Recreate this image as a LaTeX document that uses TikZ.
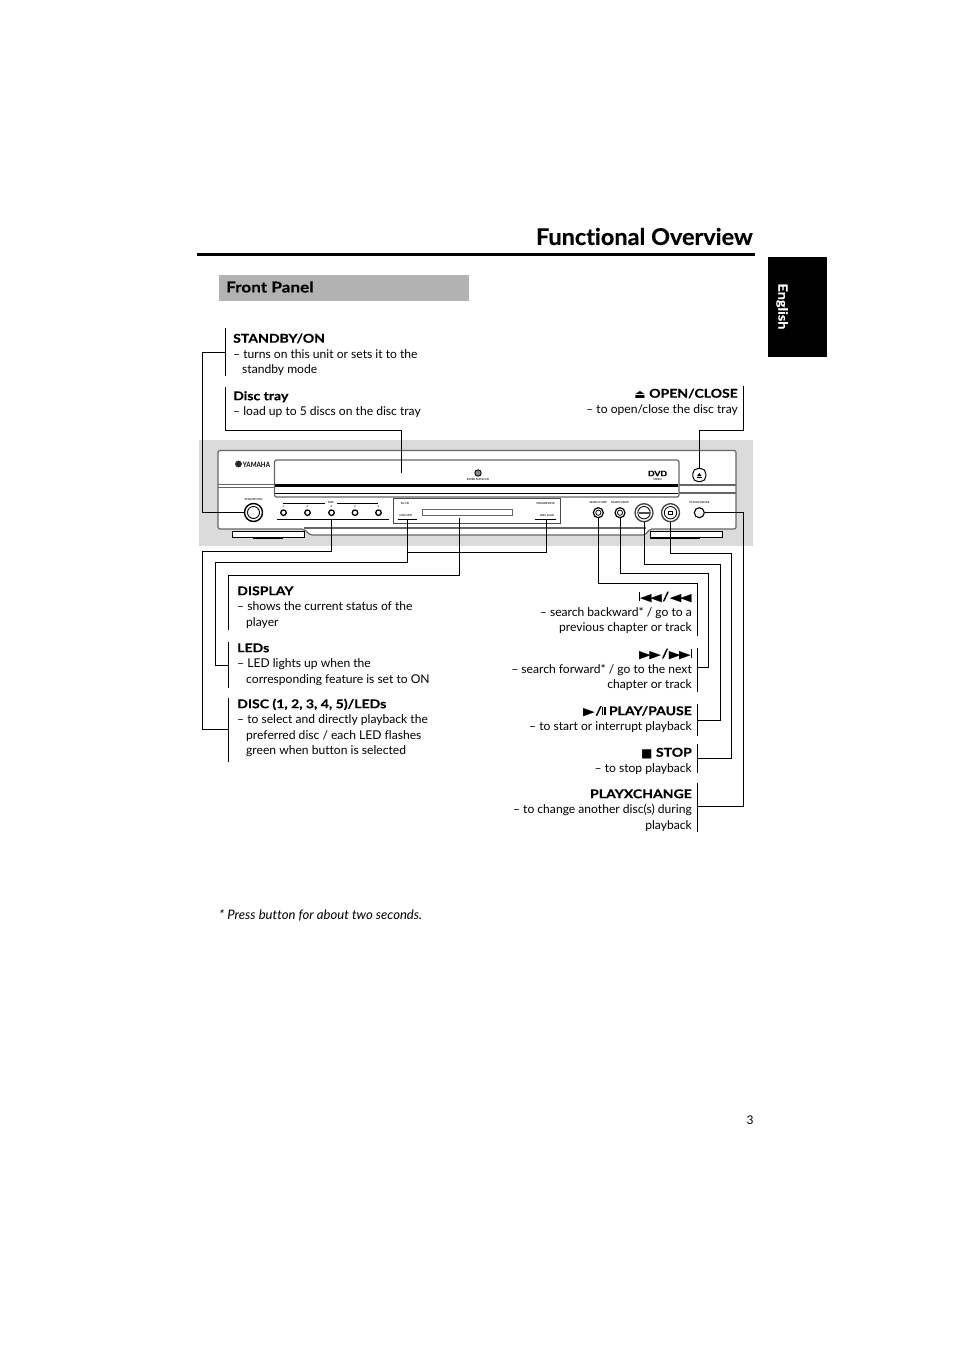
\documentclass[tikz,border=0pt]{standalone}
\usepackage{fontspec}
\setmainfont[Ligatures=NoCommon]{Lato}
\newfontfamily\symfont{DejaVu Sans}
\newfontface\headfont{Lato Bold}[FakeStretch=1.16,FakeBold=0.25,Ligatures=NoCommon]
\newfontface\titlefont{Lato Bold}[FakeStretch=1.02,FakeBold=0.3,Ligatures=NoCommon]
\newcommand{\bodyfont}{\fontsize{12.1}{15.5}\selectfont}
\newcommand{\hd}[1]{{\headfont\rule{0pt}{9.5pt}#1}}
\newcommand{\symb}[2]{\smash{\raisebox{-0.6pt}{\symfont\fontsize{#1}{#1}\selectfont #2}}}
\newcommand{\lefttri}{\smash{\scalebox{1.4}[1]{\symb{11}{◀}}}}
\newcommand{\righttri}{\smash{\scalebox{1.4}[1]{\symb{11}{▶}}}}
\newcommand{\vbar}[1]{\rule[-0.2pt]{#1}{8.5pt}}
\begin{document}
\begin{tikzpicture}[
        x=1pt, y=-1pt,
        note/.style={anchor=north west, inner sep=0pt, align=left, font=\bodyfont},
        noter/.style={anchor=north east, inner sep=0pt, align=right, font=\bodyfont},
        conn/.style={draw=black, line width=0.9pt},
        edge/.style={draw=black!60, line width=1.2pt},
        tinytext/.style={inner sep=0pt, font=\bfseries\fontsize{2.7}{3}\selectfont, text=black!85},
        smallbtn/.style={circle, draw=black, line width=0.9pt, inner sep=0pt, minimum size=10pt, fill=white},
        bigbtn/.style={circle, draw=black!75, line width=1.3pt, inner sep=0pt, minimum size=18pt, fill=white},
        led/.style={circle, draw=black, line width=1.3pt, inner sep=0pt, minimum size=5.5pt, fill=white}
    ]

    \useasboundingbox (0,0) rectangle (954,1351);
    \fill[white] (0,0) rectangle (954,1351);

    % Heading
    \node[inner sep=0pt, anchor=east, font=\titlefont\fontsize{23}{23}\selectfont] (title) at (753,236.5) {Functional Overview};
    \draw[line width=3pt] (197,254.5) -- (755,254.5);
    \node[fill=black!30, minimum width=250pt, minimum height=26pt, inner sep=0pt] (band) at (344,288) {};
    \node[inner sep=0pt, anchor=west, font=\headfont\fontsize{14.8}{15}\selectfont] (panelname) at (226,287) {Front Panel};
    \node[fill=black, minimum width=59pt, minimum height=100pt, inner sep=0pt] (tab) at (797.5,307) {};
    \node[inner sep=0pt, rotate=-90, text=white, font=\headfont\fontsize{12.5}{12.5}\selectfont] (lang) at (782,306.5) {English};

    % Player
    \fill[black!14] (199,440) rectangle (753,546);
    \draw[edge, fill=white, rounded corners=2pt] (218,450.5) -- (736,450.5) -- (736,529) -- (650,529) -- (645,535) -- (310,535) -- (304,529) -- (218,529) -- cycle;
    \draw[edge] (304,528) -- (646,528);
    \draw[edge] (218,484.5) -- (274,484.5);
    \draw[edge] (218,487.5) -- (274,487.5);
    \draw[edge] (679,485) -- (736,485);
    \draw[edge] (679,493) -- (736,493);
    \draw[edge, rounded corners=2pt] (274.5,460) rectangle (679,497);
    \draw[line width=3pt] (275,485.5) -- (678,485.5);
    \draw[line width=0.7pt] (275,493) -- (678,493);
    \node[draw=black, line width=0.7pt, fill=white, minimum width=72pt, minimum height=6pt, inner sep=0pt] (footl) at (268.5,534.7) {};
    \node[draw=black, line width=0.7pt, fill=white, minimum width=72pt, minimum height=6pt, inner sep=0pt] (footr) at (686,534.7) {};
    \draw[line width=1.3pt] (253,538) -- (283,538);
    \draw[line width=1.3pt] (650,538) -- (700,538);

    % Logos
    \fill[black!85] (238.5,464) circle (3.4);
    \node[inner sep=0pt, font=\bfseries\fontsize{7.4}{7.4}\selectfont] (yamaha) at (256.5,464.5) {\scalebox{0.84}[1]{YAMAHA}};
    \draw[line width=0.9pt, fill=black!45] (478,473) circle (3.2);
    \node[tinytext] (sacd) at (478,480) {SUPER AUDIO CD};
    \node[inner sep=0pt, font=\headfont\itshape\fontsize{7.5}{7.5}\selectfont] (dvd) at (657.5,473.5) {DVD};
    \node[tinytext] (dvdsub) at (657.5,479.5) {VIDEO};

    % Standby and discs
    \node[tinytext] (standbytext) at (253.5,500) {STANDBY/ON};
    \node[bigbtn, line width=1.4pt, draw=black] (bstandby) at (253.5,512.5) {};
    \draw[line width=0.9pt] (bstandby) circle (6);
    \draw[line width=0.7pt] (283,503.3) -- (325,503.3);
    \draw[line width=0.7pt] (337,503.3) -- (378,503.3);
    \node[tinytext] (disctext) at (331,503) {DISC};
    \draw[line width=0.8pt] (277,519) -- (389,519);
    \foreach \x/\n in {283.5/1, 307.5/2, 331.5/3, 355/4, 378.5/5} {
        \node[tinytext] (num\n) at (\x,506.8) {\n};
        \node[led] (bdisc\n) at (\x,512.7) {};
    }
    \coordinate (discrule) at (331.5,519);

    % Display
    \draw[draw=black!70, line width=0.8pt] (393,498.3) rectangle (560.7,523.3);
    \node[draw=black!60, line width=0.7pt, minimum width=90pt, minimum height=6.4pt, inner sep=0pt] (slot) at (467.3,512.5) {};
    \node[tinytext] (ledtext1) at (405,504) {SA-CD};
    \node[tinytext] (ledtext2) at (406,515.7) {DISC SKIP};
    \node[tinytext] (ledtext3) at (545.7,504) {PROGRESSIVE};
    \node[tinytext] (ledtext4) at (547,515.7) {DISC SCAN};
    \draw[line width=0.8pt] (397.7,519.3) -- (417.3,519.3);
    \draw[line width=0.8pt] (535,519.3) -- (555.7,519.3);
    \coordinate (ledrule1) at (407.7,519.3);
    \coordinate (ledrule2) at (546,519.3);
    \coordinate (slottap) at (459.7,518);

    % Buttons
    \node[tinytext] (backtext) at (598.3,503) {SEARCH/SKIP};
    \node[tinytext] (fwdtext) at (620,503) {SEARCH/SKIP};
    \node[tinytext] (xchangetext) at (699.5,503) {PLAYXCHANGE};
    \node[smallbtn, line width=1.2pt] (bback) at (598.3,512.7) {};
    \draw[line width=0.8pt] (bback) circle (2.6);
    \node[smallbtn, line width=1.2pt] (bfwd) at (620,512.7) {};
    \draw[line width=0.8pt] (bfwd) circle (2.6);
    \node[bigbtn] (bplay) at (644,512.7) {};
    \draw[line width=0.8pt] (bplay) circle (6.2);
    \draw[line width=1.8pt, black!70] (638.5,512.7) -- (649.5,512.7);
    \node[bigbtn] (bstop) at (670.5,512.7) {};
    \draw[line width=0.8pt] (bstop) circle (6.2);
    \draw[line width=0.5pt] (668.3,511) rectangle (672.7,514.4);
    \node[smallbtn, line width=1.1pt] (bxchange) at (699.3,512.7) {};
    \node[draw=black, line width=1pt, rounded corners=5pt, fill=white, minimum size=13pt, inner sep=0pt] (beject) at (699.3,475) {};
    \fill (696.9,476.2) -- (701.7,476.2) -- (699.3,473) -- cycle;
    \draw[line width=0.6pt] (696.9,477.6) -- (701.7,477.6);

    % Left notes, upper
    \node[note] (standby) at (233,333) {\hd{STANDBY/ON}\\– turns on this unit or sets it to the\\\hspace*{9pt}standby mode};
    \node[note] (disctray) at (233,390.5) {\hd{Disc tray}\\– load up to 5 discs on the disc tray};
    \draw[conn] (225.5,328) -- (225.5,376);
    \draw[conn] (bstandby.west) -- (202.5,512.5) -- (202.5,352.3) -- (225.5,352.3);
    \draw[conn] (225.5,387) -- (225.5,430) -- (401.7,430) -- (401.7,473);

    % Open/close
    \node[noter] (eject) at (738,388) {\hd{\symb{12}{⏏} OPEN/CLOSE}\\– to open/close the disc tray};
    \draw[conn] (743.3,386) -- (743.3,430) -- (699.3,430) -- (beject.north);

    % Left notes, lower
    \node[note] (display) at (237,585.5) {\hd{DISPLAY}\\– shows the current status of the\\\hspace*{9pt}player};
    \node[note] (leds) at (237,642.5) {\hd{LEDs}\\– LED lights up when the\\\hspace*{9pt}corresponding feature is set to ON};
    \node[note] (disc) at (237,698.5) {\hd{DISC (1, 2, 3, 4, 5)/LEDs}\\– to select and directly playback the\\\hspace*{9pt}preferred disc / each LED flashes\\\hspace*{9pt}green when button is selected};
    \draw[conn] (slottap) -- (459.7,575) -- (228.5,575) -- (228.5,630);
    \draw[conn] (228.5,641.7) -- (228.5,688.3);
    \draw[conn] (ledrule1) -- (407.7,562.3) -- (215,562.3) -- (215,665) -- (228.5,665);
    \draw[conn] (ledrule2) -- (546,552.7) -- (407.7,552.7);
    \draw[conn] (228.5,698.3) -- (228.5,761.7);
    \draw[conn] (discrule) -- (331.5,551.3) -- (202.3,551.3) -- (202.3,729.3) -- (228.5,729.3);

    % Right notes
    \node[noter] (back) at (692,591) {\hd{\vbar{0.8pt}\lefttri\kern-1.5pt\lefttri\kern0.5pt/\kern0.5pt\lefttri\kern-1.5pt\lefttri}\\– search backward* / go to a\\previous chapter or track};
    \node[noter] (fwd) at (692,648) {\hd{\righttri\kern-1.5pt\righttri\kern0.5pt/\kern0.5pt\righttri\kern-1.5pt\righttri\vbar{0.8pt}}\\– search forward* / go to the next\\chapter or track};
    \node[noter] (play) at (692,705.5) {\hd{\righttri\kern0.5pt/\vbar{1.5pt}\kern0.6pt\vbar{1.5pt} PLAY/PAUSE}\\– to start or interrupt playback};
    \node[noter] (stop) at (692,747) {\hd{\symb{12}{■} STOP}\\– to stop playback};
    \node[noter] (xchange) at (692,788.5) {\hd{PLAYXCHANGE}\\– to change another disc(s) during\\playback};

    \draw[conn] (bback.south) -- (598.3,583.3) -- (697.7,583.3) -- (697.7,635.7);
    \draw[conn] (697.7,648) -- (697.7,692.3);
    \draw[conn] (bfwd.south) -- (620,573.3) -- (708.7,573.3) -- (708.7,667.3) -- (697.7,667.3);
    \draw[conn] (697.7,704) -- (697.7,735.7);
    \draw[conn] (bplay.south) -- (644,564.3) -- (720,564.3) -- (720,720) -- (697.7,720);
    \draw[conn] (697.7,744) -- (697.7,773.3);
    \draw[conn] (bstop.south) -- (670.5,553.3) -- (731.3,553.3) -- (731.3,758.3) -- (697.7,758.3);
    \draw[conn] (697.7,783) -- (697.7,832.3);
    \draw[conn] (bxchange.east) -- (743.3,512.7) -- (743.3,806) -- (697.7,806);

    % Footer
    \node[inner sep=0pt, anchor=west, font=\itshape\fontsize{13.1}{15}\selectfont] (footnote) at (219,915.5) {* Press button for about two seconds.};
    \node[inner sep=0pt, font=\fontsize{12}{12}\selectfont] (page) at (750,1120) {3};

\end{tikzpicture}
\end{document}
